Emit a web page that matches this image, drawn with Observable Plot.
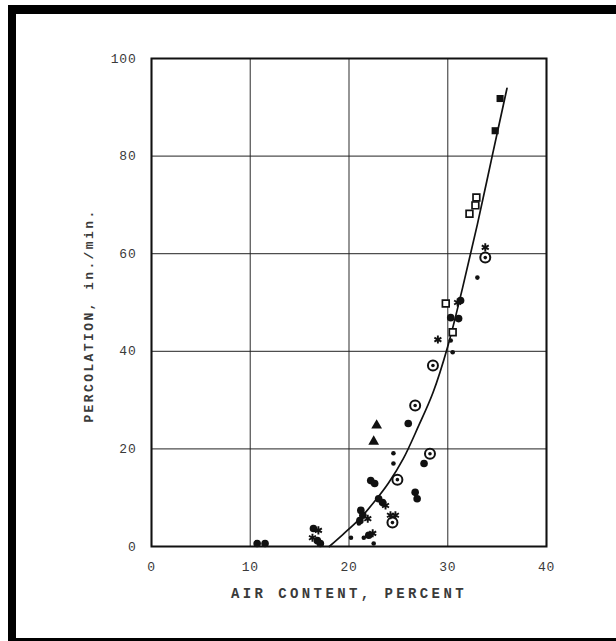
<!DOCTYPE html>
<html><head><meta charset="utf-8">
<script src="https://cdn.jsdelivr.net/npm/d3@7"></script>
<script src="https://cdn.jsdelivr.net/npm/@observablehq/plot@0.6"></script>
<style>
body{margin:0;background:#fff;}
#wrap{position:relative;width:616px;height:641px;overflow:hidden;background:#fff;}
#wrap svg{position:absolute;left:0;top:0;}
.bt{position:absolute;left:8px;top:5px;right:0;height:9px;background:#000}
.bl{position:absolute;left:8px;top:5px;width:8px;bottom:0;background:#000}
.bb{position:absolute;left:8px;right:0;bottom:0;height:3px;background:#000}
g[aria-label="x-axis tick label"] text, g[aria-label="y-axis tick label"] text{letter-spacing:0.8px}
</style></head>
<body>
<div id="wrap"><div class="bt"></div><div class="bl"></div><div class="bb"></div></div>
<script>
const xTitle = "AIR CONTENT, PERCENT";
const yTitle = "PERCOLATION, in./min.";
const xTicks = [0, 10, 20, 30, 40];
const yTicks = [0, 20, 40, 60, 80, 100];

// fitted curve (air content %, percolation in./min.)
const curveX = [18, 19.4, 21, 22.5, 24, 25.5, 27, 28.5, 30, 31.5, 33, 34.5, 36];
const curveY = [0, 2.5, 5.5, 9, 13, 18, 24.5, 31.5, 41, 53, 66, 80, 93.9];

// observed points by marker type [air content, percolation]
const filledSquares = [[35.3, 91.8], [34.8, 85.2]];
const openSquares = [[32.2, 68.2], [32.8, 69.9], [32.9, 71.5], [29.8, 49.8], [30.5, 43.9]];
const dottedCircles = [[33.8, 59.2], [28.5, 37.1], [26.7, 28.9], [24.9, 13.7], [24.4, 4.9], [28.2, 19.0]];
const filledCircles = [[26.0, 25.2], [30.3, 46.9], [31.1, 46.7], [31.3, 50.4], [22.2, 13.5], [22.6, 12.9],
  [27.6, 17.0], [26.7, 11.1], [26.9, 9.8], [10.7, 0.6], [11.5, 0.6], [21.2, 7.4], [21.4, 6.4],
  [23.0, 9.8], [23.4, 9.0], [16.4, 3.7], [16.8, 1.2], [17.1, 0.6], [21.1, 5.3], [22.0, 2.3]];
const triangles = [[22.8, 24.8], [22.5, 21.5]];
const smallDots = [[24.5, 19.1], [24.5, 17.0], [33.0, 55.1], [30.5, 39.8], [30.3, 42.2], [20.2, 1.8],
  [22.5, 0.6], [21.0, 4.7], [21.5, 1.8]];
const crosses = [[29.0, 42.4], [31.0, 50.0], [33.8, 61.3], [23.7, 8.4], [21.9, 5.7], [24.2, 6.4],
  [24.7, 6.4], [16.9, 3.3], [16.3, 1.8], [22.4, 2.7]];

const curve = curveX.map((x, i) => ({x, y: curveY[i]}));
const px = d => d[0], py = d => d[1];
const mono = "'Liberation Mono', 'DejaVu Sans Mono', monospace";

const plot = Plot.plot({
  width: 616, height: 641,
  marginLeft: 151, marginRight: 70, marginTop: 58, marginBottom: 95,
  style: {fontFamily: mono, fontSize: "13px", color: "#3a3a3a", background: "transparent"},
  x: {domain: [0, 40], ticks: xTicks, tickSize: 0, tickPadding: 15, label: null},
  y: {domain: [0, 100], ticks: yTicks, tickSize: 0, tickPadding: 15, label: null},
  marks: [
    Plot.gridX(xTicks, {stroke: "#222", strokeOpacity: 0.8, strokeWidth: 1.2}),
    Plot.gridY(yTicks, {stroke: "#222", strokeOpacity: 0.8, strokeWidth: 1.2}),
    Plot.frame({stroke: "#111", strokeWidth: 2}),
    Plot.line(curve, {x: "x", y: "y", curve: "catmull-rom", stroke: "#111", strokeWidth: 1.7}),
    Plot.dot(filledSquares, {x: px, y: py, symbol: "square", fill: "#111", r: 4}),
    Plot.dot(openSquares, {x: px, y: py, symbol: "square", stroke: "#111", strokeWidth: 1.7, fill: "white", r: 3.8}),
    Plot.dot(dottedCircles, {x: px, y: py, stroke: "#111", strokeWidth: 2, fill: "white", r: 5}),
    Plot.dot(dottedCircles, {x: px, y: py, fill: "#111", r: 1.8}),
    Plot.dot(filledCircles, {x: px, y: py, fill: "#111", r: 3.8}),
    Plot.dot(triangles, {x: px, y: py, symbol: "triangle", fill: "#111", r: 4}),
    Plot.dot(smallDots, {x: px, y: py, fill: "#111", r: 2.3}),
    Plot.dot(crosses, {x: px, y: py, symbol: "asterisk", stroke: "#111", strokeWidth: 1.9, r: 3.8}),
    Plot.text([xTitle], {frameAnchor: "bottom", dy: 51, fontSize: 14, fill: "#3a3a3a", fontWeight: 600,
      fontFamily: mono}),
    Plot.text([yTitle], {frameAnchor: "left", dx: -63, dy: 13, rotate: -90, textAnchor: "middle",
      fontSize: 13, fill: "#3a3a3a", fontWeight: 600, fontFamily: mono})
  ]
});
// typewriter-style letter spacing for titles
d3.select(plot).selectAll("text").filter(function () { return this.textContent === xTitle; }).style("letter-spacing", "3.4px");
d3.select(plot).selectAll("text").filter(function () { return this.textContent === yTitle; }).style("letter-spacing", "2.4px");
document.getElementById("wrap").appendChild(plot);
</script>
</body></html>
